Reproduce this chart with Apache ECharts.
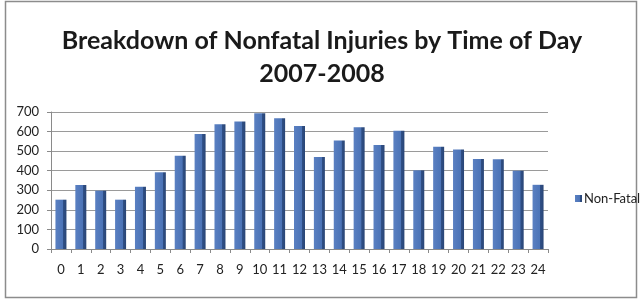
<!DOCTYPE html>
<html><head><meta charset="utf-8">
<script src="https://cdn.jsdelivr.net/npm/echarts@6/dist/echarts.min.js"></script>
<style>html,body{margin:0;padding:0;background:#fff}#c{width:644px;height:299px}</style>
</head><body><div id="c"></div>
<script>
const hours = ['0','1','2','3','4','5','6','7','8','9','10','11','12','13','14','15','16','17','18','19','20','21','22','23','24'];
const nonFatal = [252,327,298,252,318,392,476,588,638,652,693,668,628,470,554,622,532,604,402,522,508,460,458,400,328];
const yTicks = [0,100,200,300,400,500,600,700];

const chart = echarts.init(document.getElementById('c'), null, {renderer:'canvas'});
chart.setOption({
  animation:false,
  backgroundColor:'#fff',
  title:{
    text:'Breakdown of Nonfatal Injuries by Time of Day\n2007-2008',
    left:'center', top:19,
    textStyle:{fontFamily:'Lato', fontWeight:'bold', fontSize:25, color:'#1a1a1a', lineHeight:33}
  },
  legend:{
    data:['Non-Fatal'], orient:'vertical', left:570, top:187,
    itemWidth:7, itemHeight:7, icon:'rect', itemGap:4,
    textStyle:{fontFamily:'Lato', fontSize:13, color:'#222', padding:[0,0,0,-3]}
  },
  graphic:[{type:'rect', shape:{x:5.5,y:1.5,width:631,height:296}, style:{fill:'none', stroke:'#8c8c8c', lineWidth:1.5}, z:-1}],
  grid:{left:51, right:96, top:112, bottom:50, containLabel:false},
  xAxis:{
    type:'category', data:hours,
    axisLine:{lineStyle:{color:'#8a8a8a'}},
    axisTick:{show:true, lineStyle:{color:'#8a8a8a'}, length:4},
    axisLabel:{fontFamily:'Lato', fontSize:13, color:'#222', margin:14}
  },
  yAxis:{
    type:'value', min:0, max:700, interval:100,
    axisLine:{show:true, lineStyle:{color:'#8a8a8a'}},
    axisTick:{show:true, lineStyle:{color:'#8a8a8a'}, length:4},
    axisLabel:{fontFamily:'Lato', fontSize:13, color:'#222', margin:12,
      formatter:v=> yTicks.includes(v) ? String(v) : ''},
    splitLine:{lineStyle:{color:'#9a9a9a', width:1}}
  },
  series:[{
    name:'Non-Fatal', type:'bar', data:nonFatal, barWidth:11,
    itemStyle:{
      color:new echarts.graphic.LinearGradient(0,0,1,0,[
        {offset:0,color:'#5a80c2'},{offset:0.7,color:'#4b73b6'},{offset:0.72,color:'#2f4f86'},{offset:1,color:'#2a4676'}
      ])
    }
  }]
});
</script></body></html>
